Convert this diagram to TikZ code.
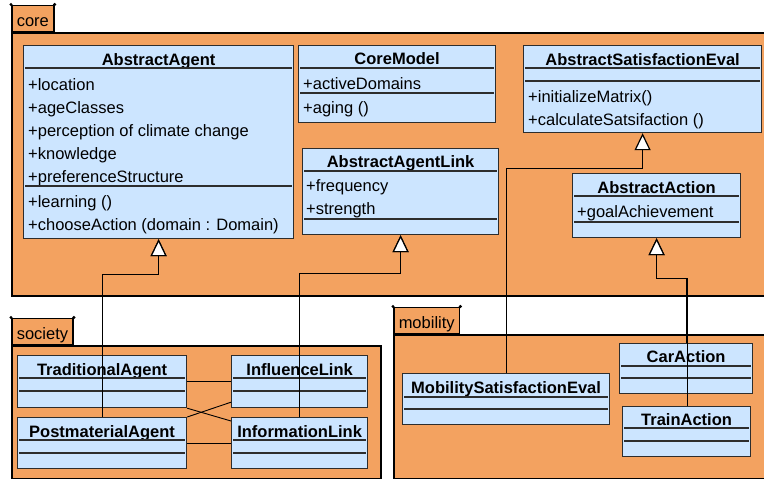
\documentclass[tikz,border=0pt]{standalone}
\usepackage{fontspec}
\setmainfont{Liberation Sans}
\usetikzlibrary{arrows.meta}

\definecolor{pkgorange}{RGB}{243,162,96}
\definecolor{clsblue}{RGB}{204,229,255}
\definecolor{clsline}{RGB}{45,45,45}

\begin{document}
\begin{tikzpicture}[x=1pt, y=-1pt, font=\fontsize{16.5}{18}\selectfont,
	pkg/.style={draw, line width=2pt, fill=pkgorange, anchor=north west, inner sep=0pt},
	pkgtab/.style={draw, line width=1.5pt, fill=pkgorange, anchor=south west, inner xsep=5pt, inner ysep=0pt, text height=21pt, text depth=5pt},
	cls/.style={draw=clsline, line width=1.2pt, fill=clsblue, anchor=north west, inner sep=0pt},
	sep/.style={draw=clsline, line width=1.2pt, shorten <=2pt, shorten >=2pt},
	title/.style={font=\fontsize{16.5}{18}\selectfont\bfseries, anchor=base, inner sep=0pt},
	attr/.style={anchor=base west, inner sep=0pt},
	gen/.style={draw, line width=0.9pt, -{Triangle[fill=white, length=17pt, width=16pt, line width=1.2pt]}},
	assoc/.style={draw, line width=0.9pt}]
	\useasboundingbox (0,0) rectangle (764,479);
	\clip (0,0) rectangle (764,479);

	% packages
	\node[pkg, minimum width=770pt, minimum height=263pt] (core) at (11,32) {};
	\node[pkgtab] (coretab) at (core.north west) {core};
	\node[pkg, minimum width=369pt, minimum height=133pt] (society) at (11,345) {};
	\node[pkgtab] (societytab) at (society.north west) {society};
	\node[pkg, minimum width=390pt, minimum height=144pt] (mobility) at (393,334) {};
	\node[pkgtab] (mobilitytab) at (mobility.north west) {mobility};
	\foreach \p in {coretab, societytab, mobilitytab} {
		\fill (\p.north west) circle [radius=1.7pt];
		\fill (\p.north east) circle [radius=1.7pt];
	}

	% core classes
	\node[cls, minimum width=270pt, minimum height=193pt] (agent) at (23,45) {};
	\node[title] (agent-t) at (agent.north |- 0,65) {AbstractAgent};
	\foreach \t [count=\i from 0] in {location, ageClasses, perception of climate change, knowledge, preferenceStructure}
		\node[attr] (agent-a\i) at (28, 90+23*\i) {+\t};
	\foreach \t [count=\i from 0] in {learning (), chooseAction (domain : Domain)}
		\node[attr] (agent-m\i) at (28, 207+23*\i) {+\t};

	\node[cls, minimum width=197pt, minimum height=77pt] (coremodel) at (298,45) {};
	\node[title] (coremodel-t) at (coremodel.north |- 0,64) {CoreModel};
	\node[attr] (coremodel-a0) at (303,89) {+activeDomains};
	\node[attr] (coremodel-m0) at (303,113) {+aging ()};

	\node[cls, minimum width=196pt, minimum height=86pt] (agentlink) at (302,148) {};
	\node[title] (agentlink-t) at (agentlink.north |- 0,167) {AbstractAgentLink};
	\node[attr] (agentlink-a0) at (306,191) {+frequency};
	\node[attr] (agentlink-a1) at (306,214) {+strength};

	\node[cls, minimum width=238pt, minimum height=87pt] (satisfeval) at (523,45) {};
	\node[title] (satisfeval-t) at (satisfeval.north |- 0,65) {AbstractSatisfactionEval};
	\node[attr] (satisfeval-m0) at (528,102) {+initializeMatrix()};
	\node[attr] (satisfeval-m1) at (528,125) {+calculateSatsifaction ()};

	\node[cls, minimum width=168pt, minimum height=64pt] (action) at (572,173) {};
	\node[title] (action-t) at (action.north |- 0,193) {AbstractAction};
	\node[attr] (action-a0) at (577,217) {+goalAchievement};

	% society classes
	\node[cls, minimum width=169pt, minimum height=52pt] (tradagent) at (17,355) {};
	\node[title] (tradagent-t) at (tradagent.north |- 0,375) {TraditionalAgent};
	\node[cls, minimum width=136pt, minimum height=52pt] (influence) at (231,355) {};
	\node[title] (influence-t) at (influence.north |- 0,375) {InfluenceLink};
	\node[cls, minimum width=169pt, minimum height=51pt] (postagent) at (17,417) {};
	\node[title] (postagent-t) at (postagent.north |- 0,437) {PostmaterialAgent};
	\node[cls, minimum width=136pt, minimum height=51pt] (information) at (231,417) {};
	\node[title] (information-t) at (information.north |- 0,437) {InformationLink};

	% mobility classes
	\node[cls, minimum width=207pt, minimum height=51pt] (mobeval) at (402,373) {};
	\node[title] (mobeval-t) at (mobeval.north |- 0,393) {MobilitySatisfactionEval};
	\node[cls, minimum width=133pt, minimum height=50pt] (caraction) at (619,343) {};
	\node[title] (caraction-t) at (caraction.north |- 0,362) {CarAction};
	\node[cls, minimum width=128pt, minimum height=50pt] (trainaction) at (622,406) {};
	\node[title] (trainaction-t) at (trainaction.north |- 0,425) {TrainAction};

	% compartment lines
	\foreach \c/\y in {agent/68, agent/186, coremodel/68, coremodel/93, agentlink/171, agentlink/219,
			satisfeval/68, satisfeval/81, action/196, action/222,
			tradagent/378, tradagent/391, influence/378, influence/391,
			postagent/440, postagent/453, information/440, information/453,
			mobeval/397, mobeval/409, caraction/366, caraction/378, trainaction/428, trainaction/441}
		\draw[sep] (\c.west |- 0,\y) -- (\c.east |- 0,\y);

	% associations
	\draw[assoc] (tradagent.east) -- (influence.west);
	\draw[assoc] (postagent.east) -- (information.west);
	\draw[assoc] (tradagent.south east) -- ([yshift=-4pt]information.north west);
	\draw[assoc] (postagent.north east) -- ([yshift=6pt]influence.south west);

	% generalizations
	\draw[gen] (tradagent.north) |- (agent.south |- 0,274) -- (agent.south);
	\draw[gen] (postagent.north) |- (agent.south |- 0,274) -- (agent.south);
	\draw[gen] (influence.north) |- (agentlink.south |- 0,273) -- (agentlink.south);
	\draw[gen] (information.north) |- (agentlink.south |- 0,273) -- (agentlink.south);
	\draw[gen] (mobeval.north) |- (satisfeval.south |- 0,168) -- (satisfeval.south);
	\draw[gen] (caraction.north) |- (action.south |- 0,278) -- (action.south);
	\draw[gen] ([xshift=1pt]trainaction.north) |- (action.south |- 0,278) -- (action.south);
\end{tikzpicture}
\end{document}
